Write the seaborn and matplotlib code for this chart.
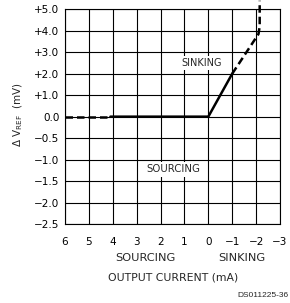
import numpy as np
import matplotlib
matplotlib.use("Agg")
import matplotlib.pyplot as plt
import seaborn as sns

# traced curve, output current (mA) vs delta Vref (mV)
dash_left_x = [6.0, 4.1]
dash_left_y = [0.0, 0.0]
solid_x = [4.1, 0.0, -1.0]
solid_y = [0.0, 0.0, 2.0]
dash_right_x = [-1.0, -2.1, -2.15, -2.15]
dash_right_y = [2.0, 3.85, 4.2, 5.4]

x_ticks = [6, 5, 4, 3, 2, 1, 0, -1, -2, -3]
x_labels = ["6", "5", "4", "3", "2", "1", "0", "\u22121", "\u22122", "\u22123"]
y_ticks = [5.0, 4.0, 3.0, 2.0, 1.0, 0.0, -0.5, -1.0, -1.5, -2.0, -2.5]
y_labels = ["+5.0", "+4.0", "+3.0", "+2.0", "+1.0", "0.0",
            "\u22120.5", "\u22121.0", "\u22121.5", "\u22122.0", "\u22122.5"]

sns.set_style("white")
plt.rcParams["font.family"] = ["DejaVu Sans"]


def fwd(v):
    v = np.asarray(v, dtype=float)
    return np.where(v >= 0, v, 2 * v)


def inv(p):
    p = np.asarray(p, dtype=float)
    return np.where(p >= 0, p, p / 2)


fig = plt.figure(figsize=(2.90, 3.03), dpi=100)
ax = fig.add_axes([0.2241, 0.2607, 0.7414, 0.7086])
ax.set_yscale("function", functions=(fwd, inv))

dash = (0, (3, 1.6))
sns.lineplot(x=dash_left_x, y=dash_left_y, ax=ax, color="black", lw=1.8,
             linestyle=dash, sort=False, estimator=None)
sns.lineplot(x=solid_x, y=solid_y, ax=ax, color="black", lw=1.8,
             sort=False, estimator=None)
sns.lineplot(x=dash_right_x, y=dash_right_y, ax=ax, color="black", lw=1.8,
             linestyle=dash, sort=False, estimator=None, clip_on=False)

ax.set_xlim(6, -3)
ax.set_ylim(-2.5, 5.0)
ax.set_xticks(x_ticks)
ax.set_xticklabels(x_labels)
ax.set_yticks(y_ticks)
ax.set_yticklabels(y_labels)
ax.yaxis.set_minor_locator(matplotlib.ticker.NullLocator())
ax.tick_params(axis="both", length=0, labelsize=7.5, colors="black")
ax.tick_params(axis="x", pad=9)
ax.tick_params(axis="y", pad=4)
ax.grid(True, color="black", lw=0.8)
for s in ax.spines.values():
    s.set_color("black")
    s.set_linewidth(0.8)

box = dict(facecolor="white", edgecolor="none", pad=1.5)
ax.text(0.28, 2.5, "SINKING", fontsize=7, ha="center", va="center", bbox=box)
ax.text(1.48, -1.23, "SOURCING", fontsize=7.3, ha="center", va="center",
        bbox=box)

tr = ax.get_xaxis_transform()
ax.text(2.65, -0.158, "SOURCING", transform=tr, fontsize=8.2,
        ha="center", va="center")
ax.text(-1.4, -0.158, "SINKING", transform=tr, fontsize=8.2,
        ha="center", va="center")

fig.text(173 / 290, 1 - 277.7 / 303, "OUTPUT CURRENT (mA)", fontsize=7.8,
         ha="center", va="center")
fig.text(18 / 290, 1 - 115 / 303, r"$\Delta$ V$_{\mathregular{REF}}$  (mV)",
         fontsize=7.5, rotation=90, ha="center", va="center")
fig.text(289 / 290, 1 - 295.7 / 303, "DS011225-36", fontsize=6,
         family="Liberation Sans", ha="right", va="center")

fig.savefig("out.png", dpi=100)
